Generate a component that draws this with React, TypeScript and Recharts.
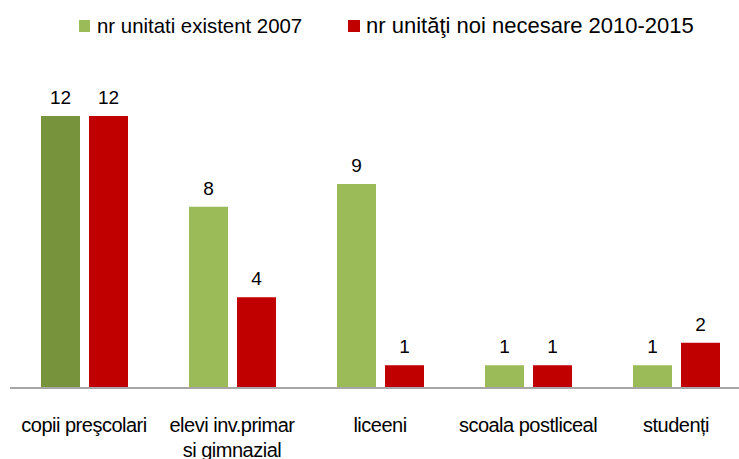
import React from 'react';
import { BarChart, Bar, XAxis, YAxis, Cell, LabelList } from 'recharts';

const categories = ['copii preşcolari', 'elevi inv.primar\nsi gimnazial', 'liceeni', 'scoala postliceal', 'studenți'];
const existent2007 = [12, 8, 9, 1, 1];
const necesare20102015 = [12, 4, 1, 1, 2];
const seriesNames = ['nr unitati existent 2007', 'nr unităţi noi necesare 2010-2015'];

const data = categories.map((c, i) => ({ name: c, a: existent2007[i], b: necesare20102015[i] }));

const GREEN = '#9BBB59';
const GREEN_DARK = '#77933C';
const RED = '#C00000';
const FONT = '"Liberation Sans", Arial, sans-serif';

const Tick = (props: any) => {
  const { x, y, payload } = props;
  const lines = String(payload.value).split('\n');
  return (
    <text x={x} y={y + 36} textAnchor="middle" fill="#000" fontSize={20} fontFamily={FONT} letterSpacing={-0.5}>
      {lines.map((l, i) => (
        <tspan key={i} x={x} dy={i === 0 ? 0 : 25}>{l}</tspan>
      ))}
    </text>
  );
};

const legendText: React.CSSProperties = {
  position: 'absolute',
  fontFamily: FONT,
  color: '#000',
  whiteSpace: 'nowrap',
};

export default function App() {
  return (
    <div style={{ position: 'absolute', left: 0, top: 0, width: 739, height: 459, overflow: 'hidden', background: '#fff' }}>
      <span style={{ position: 'absolute', left: 79, top: 20, width: 11, height: 12, background: GREEN }} />
      <span style={{ ...legendText, left: 97, top: 14, fontSize: 20.4, lineHeight: '24px' }}>{seriesNames[0]}</span>
      <span style={{ position: 'absolute', left: 348, top: 20, width: 12, height: 12, background: RED }} />
      <span style={{ ...legendText, left: 366, top: 13, fontSize: 22, lineHeight: '26px' }}>{seriesNames[1]}</span>
      <BarChart width={760} height={459} data={data} margin={{ top: 116, right: 10, bottom: 0, left: 10 }} barSize={39} barGap={9}>
        <XAxis dataKey="name" height={71} tick={<Tick />} tickLine={false} axisLine={{ stroke: '#A6A6A6', strokeWidth: 2 }} interval={0} />
        <YAxis hide domain={[0, 12]} />
        <Bar dataKey="a" fill={GREEN} isAnimationActive={false}>
          {data.map((d, i) => (
            <Cell key={i} fill={i === 0 ? GREEN_DARK : GREEN} />
          ))}
          <LabelList dataKey="a" position="top" offset={12} fill="#000" fontSize={19} fontFamily={FONT} />
        </Bar>
        <Bar dataKey="b" fill={RED} isAnimationActive={false}>
          <LabelList dataKey="b" position="top" offset={12} fill="#000" fontSize={19} fontFamily={FONT} />
        </Bar>
      </BarChart>
    </div>
  );
}
